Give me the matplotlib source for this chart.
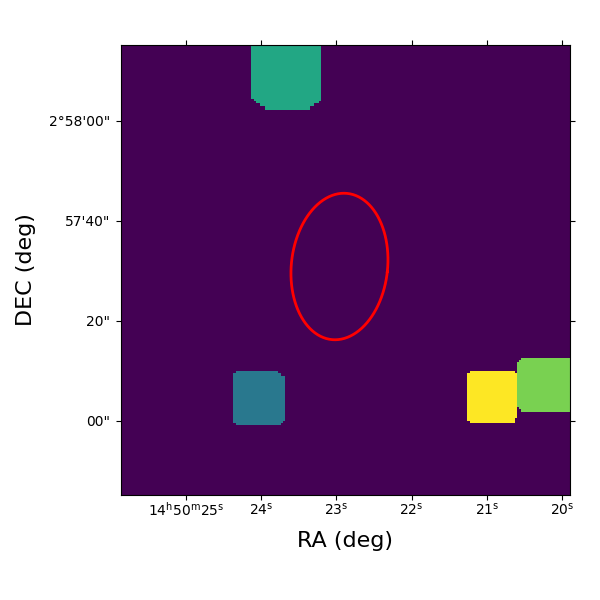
import numpy as np
import matplotlib
matplotlib.use("Agg")
import matplotlib.pyplot as plt

ra_ticks = [25, 24, 23, 22, 21, 20]
ra_labels = [r"14$^{\mathrm{h}}$50$^{\mathrm{m}}$25$^{\mathrm{s}}$", r"24$^{\mathrm{s}}$", r"23$^{\mathrm{s}}$",
             r"22$^{\mathrm{s}}$", r"21$^{\mathrm{s}}$", r"20$^{\mathrm{s}}$"]
dec_ticks = [60, 40, 20, 0]
dec_labels = ["2°58'00\"", "57'40\"", "20\"", "00\""]

n_pix = 200
# label image: (value, first row, [(col start, col end) for each row])
teal_rows = [(58, 89)] * 24 + [(59, 89), (60, 88), (62, 86), (64, 84), (64, 84)]
blue_rows = [(51, 70), (50, 71)] + [(50, 73)] * 20 + [(50, 72), (51, 71)]
yellow_rows = [(155, 175), (154, 176)] + [(154, 176)] * 19 + [(154, 175), (155, 175)]
green_rows = [(178, 200), (177, 200)] + [(176, 200)] * 20 + [(177, 200), (178, 200)]
blocks = [(0.60, 0, teal_rows), (0.40, 145, blue_rows), (1.00, 145, yellow_rows), (0.80, 139, green_rows)]

ell_ra = 22.959
ell_dec = 30.9
ell_major = 14.7
ell_minor = 9.6
ell_tilt_deg = 6.1

xlim = (25.87, 19.894)
ylim = (-14.8, 75.2)

img = np.zeros((n_pix, n_pix))
for value, first, rows in blocks:
    for i, (c0, c1) in enumerate(rows):
        img[first + i, c0:c1] = value

fig = plt.figure(figsize=(6, 6), dpi=100)
ax = fig.add_axes([120.5 / 600, 105 / 600, 449.5 / 600, 450 / 600])
ax.imshow(img, cmap="viridis", vmin=0, vmax=1, origin="upper", interpolation="nearest",
          extent=(xlim[0], xlim[1], ylim[0], ylim[1]), aspect="auto")

t = np.linspace(0, 2 * np.pi, 400)
tilt = np.deg2rad(ell_tilt_deg)
dx = ell_minor * np.cos(t) * np.cos(tilt) + ell_major * np.sin(t) * np.sin(tilt)
dy = -ell_minor * np.cos(t) * np.sin(tilt) + ell_major * np.sin(t) * np.cos(tilt)
ax.plot(ell_ra - dx / 15.0, ell_dec + dy, color="red", lw=2)

ax.set_xlim(xlim)
ax.set_ylim(ylim)
ax.set_xticks(ra_ticks, ra_labels)
ax.set_yticks(dec_ticks, dec_labels)
ax.tick_params(direction="out", length=3.5, top=True, right=True, labelsize=10, width=0.8, pad=4)
ax.tick_params(axis="x", pad=1)
ax.set_xlabel("RA (deg)", fontsize=16, labelpad=8.5)
ax.set_ylabel("DEC (deg)", fontsize=16, labelpad=9)
fig.savefig("out.png", dpi=100)
